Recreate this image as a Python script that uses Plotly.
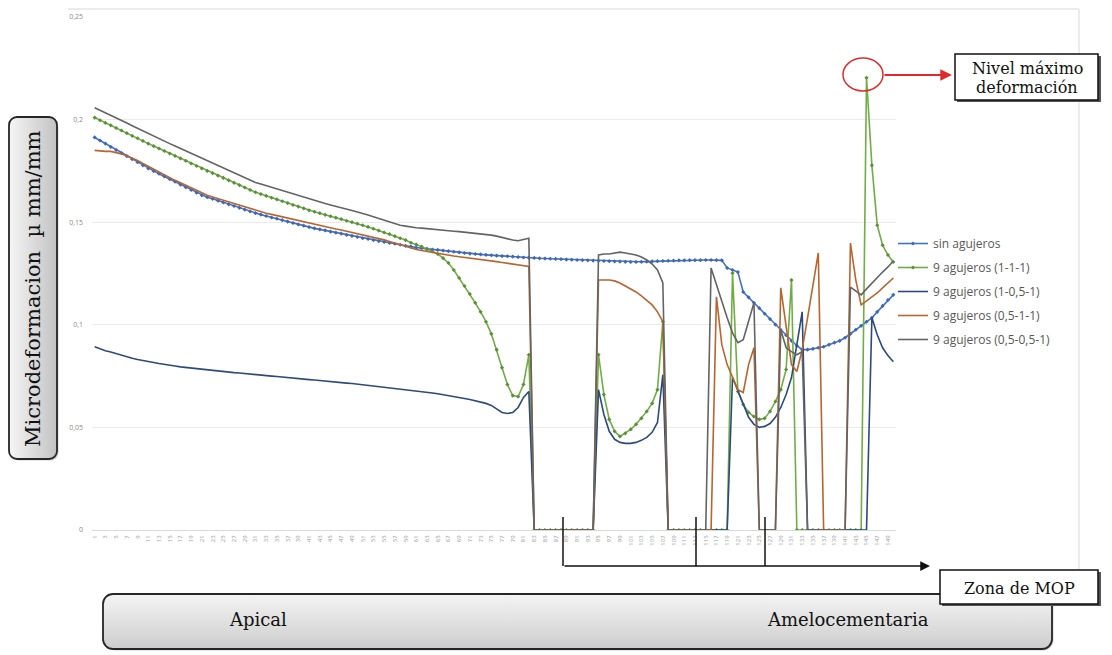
import base64
import plotly.graph_objects as go

# ---------------- data ----------------
categories = list(range(1, 151))

sin_agujeros = [
    0.1913, 0.1898, 0.1883, 0.1867, 0.1852, 0.1837, 0.1822, 0.1807, 0.1792, 0.1777,
    0.1762, 0.1749, 0.1736, 0.1723, 0.1710, 0.1697, 0.1683, 0.1670, 0.1657, 0.1644,
    0.1631, 0.1622, 0.1614, 0.1605, 0.1596, 0.1587, 0.1579, 0.1570, 0.1561, 0.1552,
    0.1544, 0.1537, 0.1530, 0.1523, 0.1517, 0.1510, 0.1503, 0.1496, 0.1489, 0.1483,
    0.1476, 0.1470, 0.1465, 0.1460, 0.1454, 0.1449, 0.1444, 0.1438, 0.1433, 0.1428,
    0.1422, 0.1418, 0.1413, 0.1408, 0.1404, 0.1399, 0.1395, 0.1390, 0.1385, 0.1381,
    0.1376, 0.1373, 0.1370, 0.1367, 0.1365, 0.1362, 0.1359, 0.1356, 0.1353, 0.1350,
    0.1347, 0.1345, 0.1343, 0.1341, 0.1339, 0.1337, 0.1335, 0.1334, 0.1332, 0.1330,
    0.1328, 0.1327, 0.1326, 0.1324, 0.1323, 0.1322, 0.1321, 0.1320, 0.1318, 0.1317,
    0.1316, 0.1315, 0.1314, 0.1313, 0.1312, 0.1311, 0.1310, 0.1309, 0.1308, 0.1307,
    0.1306, 0.1306, 0.1307, 0.1308, 0.1309, 0.1310, 0.1311, 0.1312, 0.1313, 0.1314,
    0.1314, 0.1315, 0.1315, 0.1315, 0.1316, 0.1316, 0.1315, 0.1314, 0.1277, 0.1267,
    0.1257, 0.1160, 0.1134, 0.1107, 0.1081, 0.1054, 0.1028, 0.1001, 0.0975, 0.0949,
    0.0922, 0.0898, 0.0879, 0.0879, 0.0883, 0.0888, 0.0893, 0.0903, 0.0913, 0.0922,
    0.0937, 0.0956, 0.0976, 0.0995, 0.1015, 0.1034, 0.1063, 0.1092, 0.1121, 0.1146,
]

agujeros_1_1_1 = [
    0.2010, 0.1997, 0.1984, 0.1972, 0.1959, 0.1947, 0.1934, 0.1921, 0.1909, 0.1896,
    0.1883, 0.1871, 0.1859, 0.1847, 0.1835, 0.1823, 0.1811, 0.1799, 0.1786, 0.1774,
    0.1762, 0.1750, 0.1739, 0.1727, 0.1716, 0.1704, 0.1692, 0.1681, 0.1669, 0.1657,
    0.1646, 0.1637, 0.1628, 0.1619, 0.1611, 0.1602, 0.1593, 0.1584, 0.1576, 0.1567,
    0.1558, 0.1551, 0.1544, 0.1536, 0.1529, 0.1522, 0.1515, 0.1507, 0.1500, 0.1493,
    0.1485, 0.1477, 0.1468, 0.1459, 0.1450, 0.1442, 0.1432, 0.1422, 0.1413, 0.1400,
    0.1391, 0.1381, 0.1369, 0.1357, 0.1345, 0.1325, 0.1301, 0.1267, 0.1228, 0.1189,
    0.1150, 0.1107, 0.1063, 0.1015, 0.0956, 0.0879, 0.0791, 0.0709, 0.0655, 0.0650,
    0.0709, 0.0854,
    0, 0, 0, 0, 0, 0, 0, 0, 0, 0, 0, 0,
    0.0854, 0.0660, 0.0539, 0.0481, 0.0456, 0.0471, 0.0490, 0.0515, 0.0544, 0.0578,
    0.0617, 0.0684, 0.1015,
    0, 0, 0, 0, 0, 0, 0, 0, 0, 0, 0, 0,
    0.1252, 0.0675, 0.0612, 0.0573, 0.0553, 0.0539, 0.0544, 0.0578, 0.0626, 0.0684,
    0.0782, 0.1218,
    0, 0, 0, 0, 0, 0, 0, 0, 0, 0, 0, 0, 0,
    0.2204, 0.1777, 0.1485, 0.1388, 0.1340, 0.1306,
]

agujeros_1_05_1 = [
    0.0893, 0.0883, 0.0874, 0.0867, 0.0859, 0.0852, 0.0845, 0.0837, 0.0831, 0.0825,
    0.0820, 0.0816, 0.0811, 0.0806, 0.0802, 0.0799, 0.0795, 0.0792, 0.0788, 0.0785,
    0.0782, 0.0779, 0.0777, 0.0774, 0.0772, 0.0769, 0.0767, 0.0765, 0.0762, 0.0760,
    0.0757, 0.0755, 0.0752, 0.0750, 0.0748, 0.0745, 0.0743, 0.0740, 0.0738, 0.0735,
    0.0733, 0.0731, 0.0728, 0.0726, 0.0723, 0.0721, 0.0718, 0.0716, 0.0714, 0.0711,
    0.0709, 0.0706, 0.0703, 0.0700, 0.0697, 0.0694, 0.0691, 0.0688, 0.0685, 0.0683,
    0.0680, 0.0676, 0.0672, 0.0668, 0.0664, 0.0660, 0.0655, 0.0650, 0.0646, 0.0641,
    0.0636, 0.0630, 0.0623, 0.0617, 0.0607, 0.0592, 0.0573, 0.0568, 0.0573, 0.0597,
    0.0646, 0.0675,
    0, 0, 0, 0, 0, 0, 0, 0, 0, 0, 0, 0,
    0.0684, 0.0563, 0.0481, 0.0442, 0.0427, 0.0422, 0.0422, 0.0427, 0.0437, 0.0451,
    0.0476, 0.0524, 0.0757,
    0, 0, 0, 0, 0, 0, 0, 0, 0, 0, 0, 0,
    0.0743, 0.0675, 0.0612, 0.0549, 0.0515, 0.0500, 0.0505, 0.0519, 0.0549, 0.0597,
    0.0660, 0.0743, 0.0903, 0.1063,
    0, 0, 0, 0, 0, 0, 0, 0, 0, 0, 0, 0,
    0.1034, 0.0951, 0.0888, 0.0850, 0.0820,
]

agujeros_05_1_1 = [
    0.1850, 0.1847, 0.1845, 0.1845, 0.1840, 0.1833, 0.1823, 0.1813, 0.1801, 0.1786,
    0.1772, 0.1757, 0.1743, 0.1728, 0.1716, 0.1704, 0.1692, 0.1680, 0.1667, 0.1655,
    0.1641, 0.1631, 0.1623, 0.1615, 0.1606, 0.1598, 0.1590, 0.1582, 0.1573, 0.1565,
    0.1557, 0.1550, 0.1544, 0.1538, 0.1532, 0.1525, 0.1519, 0.1513, 0.1506, 0.1500,
    0.1494, 0.1488, 0.1483, 0.1478, 0.1472, 0.1467, 0.1462, 0.1456, 0.1451, 0.1446,
    0.1440, 0.1434, 0.1428, 0.1421, 0.1414, 0.1406, 0.1398, 0.1390, 0.1382, 0.1374,
    0.1367, 0.1362, 0.1357, 0.1352, 0.1347, 0.1342, 0.1339, 0.1335, 0.1332, 0.1329,
    0.1325, 0.1322, 0.1318, 0.1315, 0.1312, 0.1308, 0.1304, 0.1300, 0.1296, 0.1293,
    0.1289, 0.1284,
    0, 0, 0, 0, 0, 0, 0, 0, 0, 0, 0, 0,
    0.1218, 0.1218, 0.1218, 0.1214, 0.1204, 0.1189, 0.1175, 0.1160, 0.1141, 0.1121,
    0.1097, 0.1063, 0.1015,
    0, 0, 0, 0, 0, 0, 0, 0, 0,
    0.1136, 0.0903, 0.0806, 0.0743, 0.0684, 0.0670, 0.0806, 0.0888,
    0, 0, 0, 0,
    0.1180, 0.1000, 0.0806, 0.0772, 0.0879, 0.1034, 0.1194, 0.1350,
    0, 0, 0, 0, 0,
    0.1398, 0.1218, 0.1097, 0.1117, 0.1136, 0.1155, 0.1180, 0.1204, 0.1228,
]

agujeros_05_05_1 = [
    0.2058, 0.2046, 0.2033, 0.2020, 0.2008, 0.1995, 0.1983, 0.1970, 0.1957, 0.1945,
    0.1932, 0.1920, 0.1908, 0.1896, 0.1883, 0.1871, 0.1859, 0.1847, 0.1835, 0.1823,
    0.1811, 0.1799, 0.1787, 0.1776, 0.1764, 0.1752, 0.1741, 0.1729, 0.1717, 0.1706,
    0.1694, 0.1686, 0.1678, 0.1669, 0.1661, 0.1653, 0.1645, 0.1636, 0.1628, 0.1620,
    0.1612, 0.1605, 0.1598, 0.1591, 0.1584, 0.1578, 0.1571, 0.1564, 0.1557, 0.1550,
    0.1544, 0.1535, 0.1527, 0.1519, 0.1511, 0.1502, 0.1494, 0.1485, 0.1481, 0.1476,
    0.1473, 0.1471, 0.1468, 0.1466, 0.1464, 0.1461, 0.1459, 0.1456, 0.1454, 0.1451,
    0.1449, 0.1447, 0.1444, 0.1442, 0.1437, 0.1432, 0.1425, 0.1417, 0.1413, 0.1410,
    0.1415, 0.1422,
    0, 0, 0, 0, 0, 0, 0, 0, 0, 0, 0, 0,
    0.1340, 0.1345, 0.1345, 0.1350, 0.1354, 0.1350, 0.1345, 0.1340, 0.1330, 0.1316,
    0.1296, 0.1267, 0.1204,
    0, 0, 0, 0, 0, 0, 0, 0,
    0.1277, 0.1194, 0.1112, 0.1034, 0.0961, 0.0913, 0.0927, 0.1015, 0.1107,
    0, 0, 0, 0,
    0.0976, 0.0888, 0.0869, 0.0854, 0.0869,
    0, 0, 0, 0, 0, 0, 0, 0,
    0.1184, 0.1165, 0.1146, 0.1175, 0.1204, 0.1228, 0.1257, 0.1282, 0.1311,
]

series_names = [
    "sin agujeros",
    "9 agujeros (1-1-1)",
    "9 agujeros (1-0,5-1)",
    "9 agujeros (0,5-1-1)",
    "9 agujeros (0,5-0,5-1)",
]
y_ticks = [0, 0.05, 0.1, 0.15, 0.2, 0.25]
x_tick_vals = categories[::2]
x_tick_text = [str(c) for c in x_tick_vals]

for s in (sin_agujeros, agujeros_1_1_1, agujeros_1_05_1, agujeros_05_1_1, agujeros_05_05_1):
    assert len(s) == len(categories), len(s)

# ---------------- geometry helpers (page pixels -> paper) ----------------
W, H = 1112, 655
PL, PR, PT, PB = 92, 896, 17, 530
PW, PH = PR - PL, PB - PT


def X(px):
    return (px - PL) / PW


def Y(py):
    return (PB - py) / PH


SERIF = "DejaVu Serif"
SANS = "Open Sans"

fig = go.Figure()

styles = [
    dict(color="#4472C4", markers=True, mcolor="#3f67b5"),
    dict(color="#70AD47", markers=True, mcolor="#5b8f3a"),
    dict(color="#2E4A7D", markers=False, mcolor=None),
    dict(color="#B8652F", markers=False, mcolor=None),
    dict(color="#646464", markers=False, mcolor=None),
]
all_series = [sin_agujeros, agujeros_1_1_1, agujeros_1_05_1, agujeros_05_1_1, agujeros_05_05_1]

for name, vals, st in zip(series_names, all_series, styles):
    kw = dict(
        x=categories, y=vals, name=name, legendgroup=name,
        line=dict(color=st["color"], width=1.6),
        mode="lines+markers" if st["markers"] else "lines",
    )
    if st["markers"]:
        kw["marker"] = dict(size=3.2, color=st["mcolor"], symbol="diamond")
    fig.add_trace(go.Scatter(**kw))

fig.update_layout(
    width=W, height=H,
    margin=dict(l=PL, r=W - PR, t=PT, b=H - PB),
    paper_bgcolor="white", plot_bgcolor="white",
    separators=",.",
    font=dict(family=SANS, color="#595959"),
    showlegend=True,
    legend=dict(
        x=X(893), y=Y(229), xanchor="left", yanchor="top",
        font=dict(family=SANS, size=12, color="#595959"),
        traceorder="grouped", tracegroupgap=5, itemwidth=30,
        bgcolor="rgba(0,0,0,0)",
    ),
    xaxis=dict(
        range=[0.5, 150.5], showgrid=False, zeroline=False,
        showline=True, linecolor="#d9d9d9", linewidth=1,
        tickmode="array", tickvals=x_tick_vals, ticktext=x_tick_text,
        tickangle=-90, tickfont=dict(size=6, color="#9a9a9a", family=SANS),
        ticks="", ticklabelstandoff=2,
    ),
    yaxis=dict(
        range=[0, 0.25], tickmode="array", tickvals=y_ticks,
        showgrid=True, gridcolor="#ebebeb", gridwidth=1, zeroline=False,
        showline=False, ticks="",
        tickfont=dict(size=7, color="#8c8c8c", family=SANS),
        ticklabelstandoff=8,
    ),
)

shapes = []
annotations = []
images = []


def box_svg(w, h, r, c1, c2, horizontal):
    x2, y2 = (1, 0) if horizontal else (0, 1)
    svg = (
        f'<svg xmlns="http://www.w3.org/2000/svg" width="{w}" height="{h}" viewBox="0 0 {w} {h}">'
        f'<defs><linearGradient id="g" x1="0" y1="0" x2="{x2}" y2="{y2}">'
        f'<stop offset="0" stop-color="{c1}"/><stop offset="1" stop-color="{c2}"/>'
        f'</linearGradient></defs>'
        f'<rect x="3.5" y="3.5" width="{w - 5}" height="{h - 5}" rx="{r}" fill="#7a7a7a" opacity="0.35"/>'
        f'<rect x="1" y="1" width="{w - 4}" height="{h - 4}" rx="{r}" fill="url(#g)" '
        f'stroke="#262626" stroke-width="1.8"/></svg>'
    )
    return "data:image/svg+xml;base64," + base64.b64encode(svg.encode()).decode()


def add_box_image(x0, y0, x1, y1, r, c1, c2, horizontal):
    w, h = x1 - x0, y1 - y0
    images.append(dict(
        source=box_svg(w, h, r, c1, c2, horizontal),
        xref="paper", yref="paper", x=X(x0), y=Y(y0),
        sizex=w / PW, sizey=h / PH, xanchor="left", yanchor="top",
        sizing="stretch", layer="above",
    ))


def label(px, py, text, size, angle=0):
    annotations.append(dict(
        xref="paper", yref="paper", x=X(px), y=Y(py), text=text,
        xanchor="center", yanchor="middle", textangle=angle, showarrow=False,
        font=dict(family=SERIF, size=size, color="#111111"),
    ))


# chart frame (top and right edges of the Excel chart area)
shapes.append(dict(type="path", xref="paper", yref="paper",
                   path=f"M {X(68)},{Y(9)} L {X(1079)},{Y(9)} L {X(1079)},{Y(585)}",
                   line=dict(color="#d9d9d9", width=1)))

# y-axis title box
add_box_image(8, 116, 60, 462, 8, "#f6f6f6", "#c2c2c2", True)
label(33, 289, "Microdeformacion  µ mm/mm", 21, angle=-90)

# bottom box
add_box_image(102, 593, 1055, 652, 10, "#f4f4f4", "#cdcdcd", False)
label(258, 619, "Apical", 18)
label(848, 619, "Amelocementaria", 18)

# "Nivel máximo deformación" box
shapes.append(dict(type="rect", xref="paper", yref="paper",
                   x0=X(957), x1=X(1101), y0=Y(102), y1=Y(56),
                   fillcolor="#555555", line=dict(width=0), layer="above"))
shapes.append(dict(type="rect", xref="paper", yref="paper",
                   x0=X(955), x1=X(1098), y0=Y(100), y1=Y(54),
                   fillcolor="white", line=dict(color="#111111", width=1.5), layer="above"))
label(1027, 68, "Nivel máximo", 16)
label(1027, 87, "deformación", 16)

# red circle + red arrow
shapes.append(dict(type="circle", xref="paper", yref="paper",
                   x0=X(843), x1=X(883), y0=Y(91), y1=Y(58),
                   line=dict(color="#e02a2a", width=1.5)))
annotations.append(dict(xref="paper", yref="paper", x=X(952), y=Y(75), text="",
                        showarrow=True, ax=883 - 952, ay=0, axref="pixel", ayref="pixel",
                        arrowhead=2, arrowsize=1.3, arrowwidth=1.8, arrowcolor="#e02a2a",
                        standoff=0, startstandoff=0))

# "Zona de MOP" box
shapes.append(dict(type="rect", xref="paper", yref="paper",
                   x0=X(942), x1=X(1101), y0=Y(606), y1=Y(572),
                   fillcolor="#555555", line=dict(width=0), layer="above"))
shapes.append(dict(type="rect", xref="paper", yref="paper",
                   x0=X(940), x1=X(1098), y0=Y(604), y1=Y(570),
                   fillcolor="white", line=dict(color="#111111", width=1.5), layer="above"))
label(1019, 588, "Zona de MOP", 16)

# black bracket lines + arrow to "Zona de MOP"
for vx in (563, 696, 765):
    shapes.append(dict(type="line", xref="paper", yref="paper",
                       x0=X(vx), x1=X(vx), y0=Y(517), y1=Y(566),
                       line=dict(color="#111111", width=1.5), layer="above"))
annotations.append(dict(xref="paper", yref="paper", x=X(930), y=Y(566), text="",
                        showarrow=True, ax=563 - 930, ay=0, axref="pixel", ayref="pixel",
                        arrowhead=2, arrowsize=1.3, arrowwidth=1.5, arrowcolor="#111111",
                        standoff=0, startstandoff=0))

fig.update_layout(shapes=shapes, annotations=annotations, images=images)
fig.write_html("out.html")
